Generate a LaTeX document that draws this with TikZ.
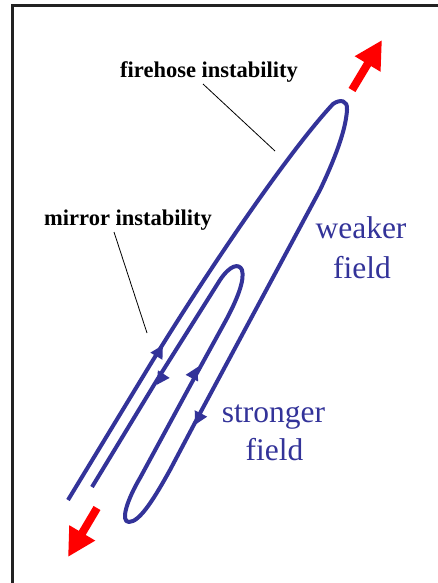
\documentclass[tikz,border=0pt]{standalone}
\usepackage{fontspec}
\newfontfamily\lblfont{Liberation Serif}
\usetikzlibrary{arrows.meta}
\definecolor{fieldblue}{RGB}{51,51,153}
\definecolor{framegray}{RGB}{34,34,34}
\begin{document}
\begin{tikzpicture}[x=1pt,y=-1pt,
  field/.style={draw=fieldblue, line width=4pt, line cap=butt, line join=round},
  dirarrow/.style={draw=fieldblue, fill=fieldblue, line width=4pt, -{Triangle[length=13pt,width=13pt]}},
  bigarrow/.style={draw=red, fill=red, line width=8pt, -{Triangle[length=28pt,width=28pt]}},
  leader/.style={draw=black, line width=0.8pt},
  frameline/.style={draw=framegray, line width=3pt},
  blacklabel/.style={font=\lblfont\bfseries\fontsize{22.5}{27}\selectfont, inner sep=0pt, anchor=base west},
  bluelabel/.style={text=fieldblue, font=\lblfont\fontsize{31.5}{36}\selectfont, inner sep=0pt, anchor=base}]
\useasboundingbox (0,0) rectangle (437,583);
% frame
\draw[frameline] (12,590) -- (12,6) -- (445,6);
% field line
\draw[field] (68,500) -- (150,365)
  .. controls (210,267) and (290,150) .. (333,104)
  .. controls (340,99) and (348,100) .. (347,110)
  .. controls (346,125) and (340,148) .. (320,190)
  -- (198,417) -- (170,470)
  .. controls (155,497) and (140,522) .. (129,522)
  .. controls (120,522) and (127,500) .. (140,478)
  -- (197,373) -- (225,322)
  .. controls (237,300) and (245,280) .. (242,270)
  .. controls (239,263) and (230,265) .. (220,280)
  -- (157,380) -- (92,487);
% direction arrows
\draw[dirarrow] (156.5,356) -- (163,345);
\draw[dirarrow] (163.3,374.8) -- (156.7,385);
\draw[dirarrow] (192.2,377.5) -- (198,366.7);
\draw[dirarrow] (200.4,414.5) -- (195,425);
% red arrows
\coordinate (topstart) at (352,90);
\coordinate (toptip) at (382,40);
\coordinate (botstart) at (97,508);
\coordinate (bottip) at (68,557);
\draw[bigarrow] (topstart) -- (toptip);
\draw[bigarrow] (botstart) -- (bottip);
% labels
\node[blacklabel] (fire) at (120,78) {firehose instability};
\node[blacklabel] (mirror) at (44,225) {mirror instability};
\coordinate (fireend) at (275,151);
\coordinate (firestart) at (203,84);
\coordinate (mirrorstart) at (114,232);
\coordinate (mirrorend) at (147,333);
\draw[leader] (firestart) -- (fireend);
\draw[leader] (mirrorstart) -- (mirrorend);
\node[bluelabel] (weak1) at (361,238) {weaker};
\node[bluelabel] (weak2) at (362,278) {field};
\node[bluelabel] (strong1) at (273.5,422) {stronger};
\node[bluelabel] (strong2) at (274.5,460) {field};
\end{tikzpicture}
\end{document}
